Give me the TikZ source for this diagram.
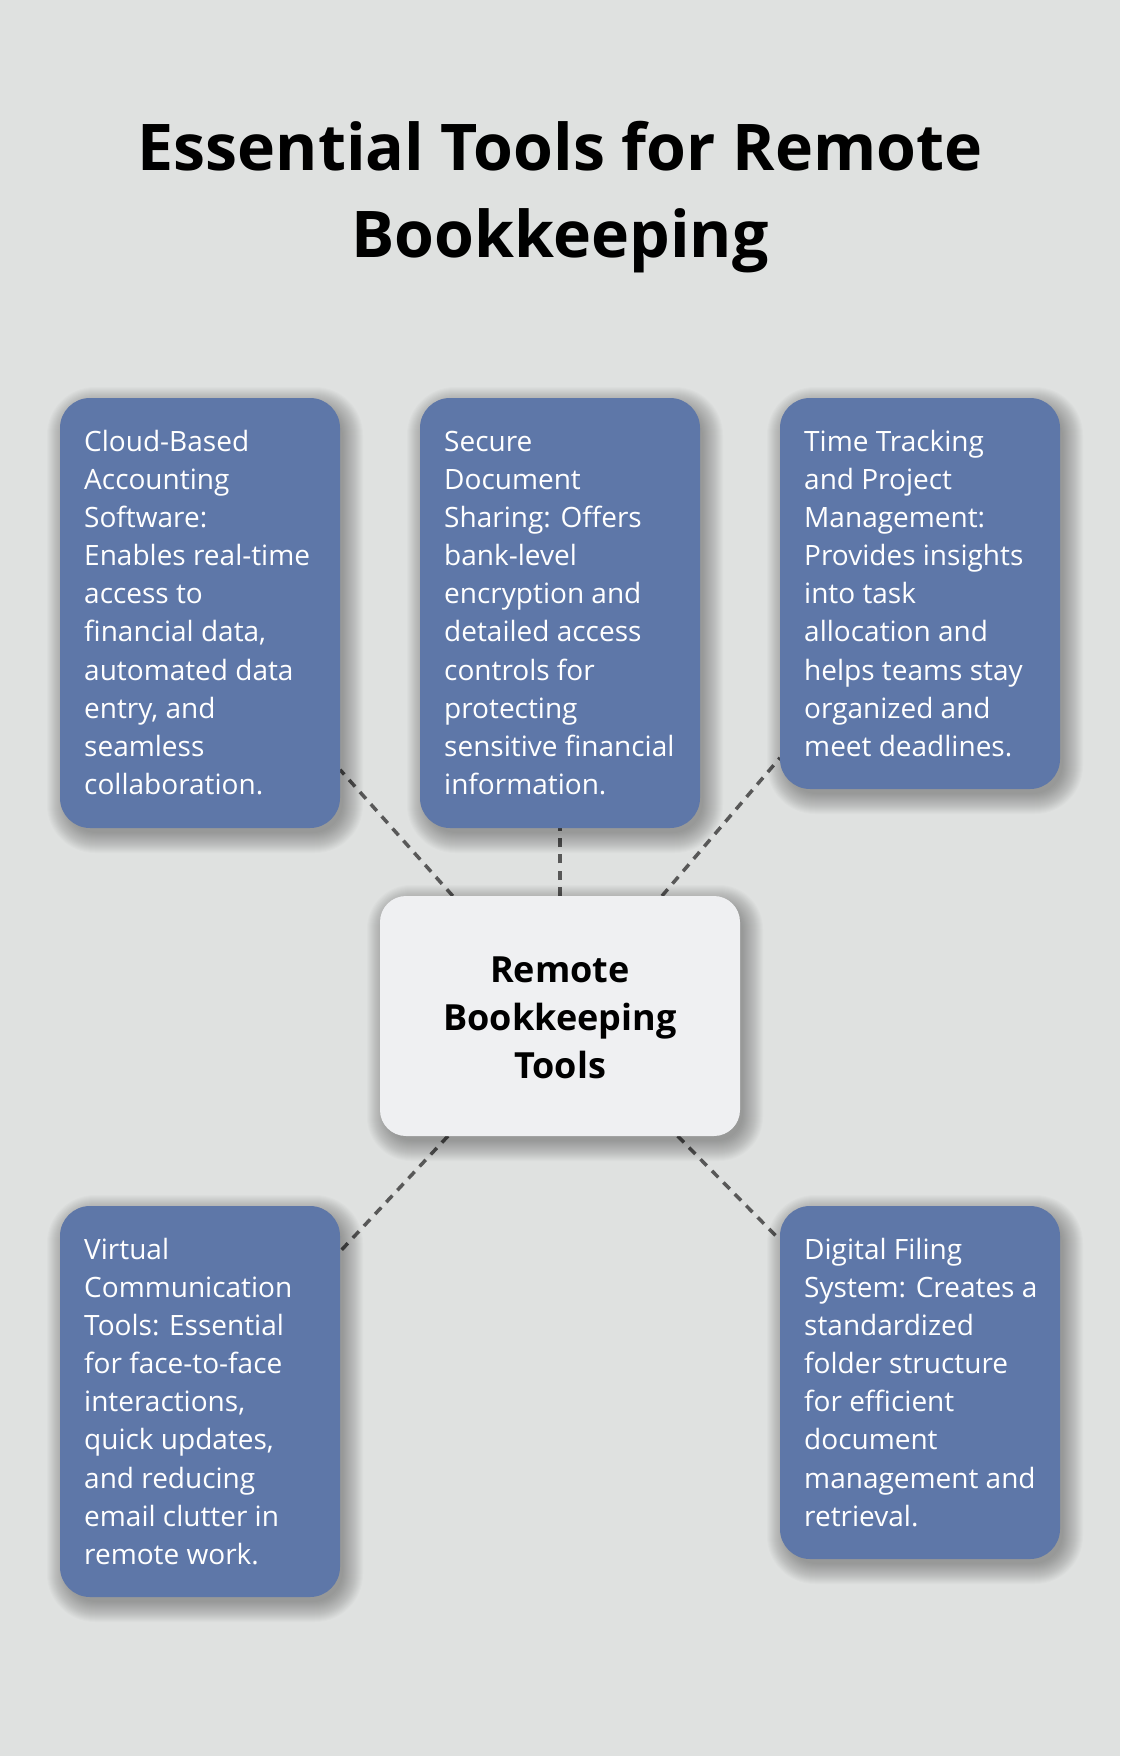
\documentclass[tikz,border=0pt]{standalone}
\usepackage{fontspec}
\setmainfont{Open Sans}
\usetikzlibrary{backgrounds,calc}
\definecolor{bgcol}{HTML}{DFE1E0}
\definecolor{boxblue}{HTML}{5E77A8}
\definecolor{centerfill}{HTML}{EFF0F2}
\definecolor{linegray}{HTML}{585858}
\newcommand{\mysoftshadow}[2]{%
  \foreach \r in {-2,-1,...,18}{%
    \fill[black, opacity=0.016, rounded corners={#2+max(\r,0)}]
      ($(#1.north west)+(5-\r,7-\r)$) rectangle ($(#1.south east)+(5+\r,7+\r)$);
  }%
}
\begin{document}
\begin{tikzpicture}[x=1pt,y=-1pt,
  bluebox/.style={fill=boxblue, rounded corners=30pt, inner sep=0pt, outer sep=0pt, minimum width=280pt},
  centerbox/.style={fill=centerfill, rounded corners=26pt, inner sep=0pt, outer sep=0pt, minimum width=360pt, minimum height=240pt},
  boxtext/.style={anchor=north west, inner sep=0pt, align=left, text=white, font={\fontsize{28}{38.1}\selectfont}},
  centertext/.style={inner sep=0pt, align=center, text=black, font={\bfseries\fontsize{36}{47.7}\selectfont}},
  titletext/.style={inner sep=0pt, align=center, text=black, font={\bfseries\fontsize{64.4}{87}\selectfont}},
  conn/.style={draw=linegray, line width=3.5pt, dash pattern=on 9pt off 7.3pt}
]
\useasboundingbox (0,0) rectangle (1120,1756);

\node[titletext] (title) at (560,196.1) {\strut Essential Tools for Remote\\Bookkeeping\strut};

\node[bluebox, minimum height=430pt] (b1) at (200,613) {};
\node[bluebox, minimum height=430pt] (b2) at (560,613) {};
\node[bluebox, minimum height=391pt] (b3) at (920,593.5) {};
\node[bluebox, minimum height=391pt] (b4) at (200,1401.5) {};
\node[bluebox, minimum height=353pt] (b5) at (920,1382.5) {};
\node[centerbox] (c) at (560,1016) {};

\node[boxtext] (t1) at (84,424.6) {\strut Cloud-Based\\Accounting\\Software:\\Enables real-time\\access to\\financial data,\\automated data\\entry, and\\seamless\\collaboration.\strut};
\node[boxtext] (t2) at (444,424.6) {\strut Secure\\Document\\Sharing: Offers\\bank-level\\encryption and\\detailed access\\controls for\\protecting\\sensitive financial\\information.\strut};
\node[boxtext] (t3) at (804,424.6) {\strut Time Tracking\\and Project\\Management:\\Provides insights\\into task\\allocation and\\helps teams stay\\organized and\\meet deadlines.\strut};
\node[boxtext] (t4) at (84,1232.6) {\strut Virtual\\Communication\\Tools: Essential\\for face-to-face\\interactions,\\quick updates,\\and reducing\\email clutter in\\remote work.\strut};
\node[boxtext] (t5) at (804,1232.6) {\strut Digital Filing\\System: Creates a\\standardized\\folder structure\\for efficient\\document\\management and\\retrieval.\strut};

\node[centertext] (ct) at (560,1020.8) {\strut Remote\\Bookkeeping\\Tools\strut};

\begin{pgfonlayer}{background}
\fill[bgcol] (0,0) rectangle (1120,1756);
\draw[conn] (c) -- (b1);
\draw[conn] (c) -- (b2);
\draw[conn] (c) -- (b3);
\draw[conn] (c) -- (b4);
\draw[conn] (c) -- (b5);
\mysoftshadow{b1}{30}
\mysoftshadow{b2}{30}
\mysoftshadow{b3}{30}
\mysoftshadow{b4}{30}
\mysoftshadow{b5}{30}
\mysoftshadow{c}{26}
\end{pgfonlayer}
\end{tikzpicture}
\end{document}
